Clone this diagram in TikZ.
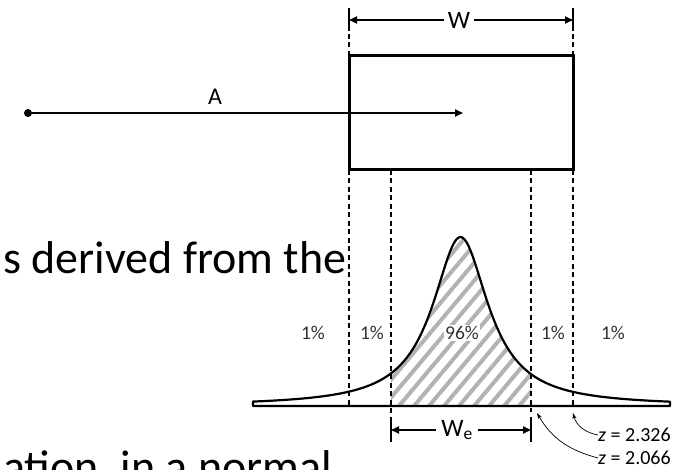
\documentclass[tikz,border=0pt]{standalone}
\usepackage{fontspec}
\setmainfont{Carlito}
\usetikzlibrary{arrows.meta,patterns.meta}

\begin{document}
\begin{tikzpicture}[x=1pt,y=-1pt,>={Triangle[length=8pt,width=7pt]},
  declare function={bell(\x)=406-169/(1+((\x-460.5)/34)^2);}]
\tikzstyle{guide}=[line width=1.4pt,dash pattern=on 5pt off 3.5pt]
\tikzstyle{tick}=[line width=2.6pt]
\tikzstyle{dim}=[line width=1.8pt,<->]
\tikzstyle{pct}=[font=\fontsize{19.5}{22}\selectfont,text=black!80,inner sep=1pt]
\tikzstyle{zl}=[font=\fontsize{20}{22}\selectfont,anchor=west,inner sep=0pt]
\tikzstyle{za}=[line width=0.7pt,-{Stealth[length=6pt,width=4pt]}]
\tikzstyle{big}=[font=\fontsize{46}{52}\selectfont,anchor=base west,inner sep=0pt]
\useasboundingbox (0,0) rectangle (682,470);
\clip (0,0) rectangle (682,470);
% slide text behind the figure
\node[big] (txtA) at (3,273) {s derived from the};
\node[big] (txtB) at (3,482) {ation, in a normal};
% target and movement
\node[draw,line width=3pt,minimum width=224pt,minimum height=114pt,inner sep=0pt,outer sep=0pt] (box) at (461,113) {};
\node[circle,fill,inner sep=0pt,minimum size=8pt] (src) at (28,113) {};
\coordinate (tip) at (463,113);
\draw[line width=1.8pt,->] (src) -- (tip);
\node[font=\fontsize{24}{26}\selectfont] (lblA) at (215,97) {A};
% width W
\coordinate (wL) at (349,20); \coordinate (wR) at (573,20);
\draw[tick] ([yshift=12pt]wL) -- ([yshift=-11pt]wL);
\draw[tick] ([yshift=12pt]wR) -- ([yshift=-11pt]wR);
\draw[dim] (wL) -- (wR);
\node[fill=white,inner sep=4pt,font=\fontsize{25}{27}\selectfont] (lblW) at (459,20) {W};
% distribution of endpoints
\coordinate (zL1) at (349,406); \coordinate (eL) at (391,406);
\coordinate (eR) at (531,406); \coordinate (zR1) at (573,406);
\fill[pattern={Lines[angle=50,distance=11.5pt,line width=4pt]},pattern color=gray!60]
  (eL) -- plot[domain=391:531,samples=60] (\x,{bell(\x)}) -- (eR) -- cycle;
\draw[line width=2.2pt,line join=round] (253,406) -- plot[domain=253:670,samples=200] (\x,{bell(\x)}) -- (670,406) -- cycle;
\draw[guide] (box.north west) -- (wL);
\draw[guide] (box.north east) -- (wR);
\draw[guide] (box.south west) -- (zL1);
\draw[guide] (box.south east) -- (zR1);
\draw[guide] (box.south -| eL) -- ([yshift=-9pt]eL);
\draw[guide] (box.south -| eR) -- ([yshift=-6pt]eR);
\foreach \n/\x/\t in {p1/313/1,p2/372/1,p4/553/1,p5/613/1}
  \node[pct] (\n) at (\x,333) {\t\%};
\node[pct,fill=white] (p3) at (462,333) {96\%};
% effective width We
\coordinate (weL) at (391,430); \coordinate (weR) at (531,430);
\draw[tick] ([yshift=13pt]weL) -- ([yshift=-12pt]weL);
\draw[tick] ([yshift=13pt]weR) -- ([yshift=-12pt]weR);
\draw[dim] (weL) -- (weR);
\node[fill=white,inner sep=5pt,font=\fontsize{25}{27}\selectfont] (lblWe) at (457,430) {W\textsubscript{e}};
% z values
\node[zl] (z1) at (598,435) {\textit{z} = 2.326};
\node[zl] (z2) at (598,458) {\textit{z} = 2.066};
\coordinate (z1t) at (573,413); \coordinate (z2t) at (537,413);
\draw[za] (z1.west) to[out=170,in=-75] (z1t);
\draw[za] (z2.west) to[out=165,in=-60] (z2t);
\end{tikzpicture}
\end{document}
